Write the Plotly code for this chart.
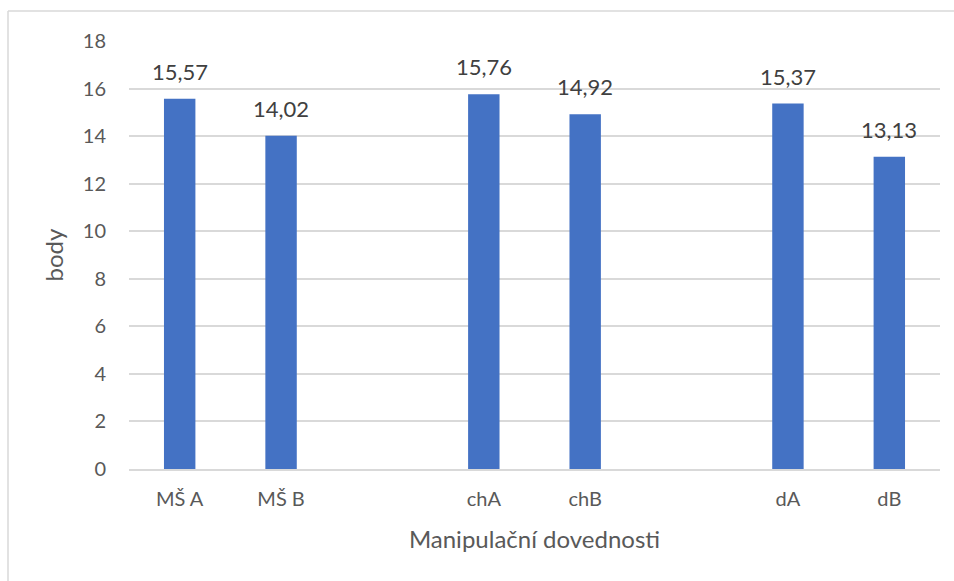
import plotly.graph_objects as go

categories = ["MŠ A", "MŠ B", " ", "chA", "chB", "  ", "dA", "dB"]
values = [15.57, 14.02, None, 15.76, 14.92, None, 15.37, 13.13]
labels = [("%.2f" % v).replace(".", ",") if v is not None else "" for v in values]
y_ticks = [0, 2, 4, 6, 8, 10, 12, 14, 16, 18]

W, H = 954, 581
ml, mr, mt, mb = 129, 14, 41, 112
pw, ph = W - ml - mr, H - mt - mb

def px(x):
    return (x - ml) / pw

def py(y):
    return (H - mb - y) / ph

FONT = "Lato"

fig = go.Figure()
fig.add_trace(go.Bar(
    x=categories, y=values,
    marker=dict(color="#4472C4", line=dict(width=0)),
    width=0.31,
))

for c, v, t in zip(categories, values, labels):
    if v is None:
        continue
    fig.add_annotation(x=c, y=v, text=t, showarrow=False, yanchor="bottom",
                       yshift=12, font=dict(family=FONT, size=22, color="#404040"))

fig.update_layout(
    width=W, height=H,
    margin=dict(l=ml, r=mr, t=mt, b=mb),
    paper_bgcolor="white", plot_bgcolor="white",
    showlegend=False,
    font=dict(family=FONT, color="#595959"),
    xaxis=dict(
        type="category", categoryorder="array", categoryarray=categories,
        showgrid=False, showline=True, linecolor="#d9d9d9", linewidth=1.5,
        ticks="", tickfont=dict(size=20, color="#595959"), ticklabelstandoff=11,
        title=dict(text="Manipulační dovednosti", font=dict(size=24, color="#595959"), standoff=22),
    ),
    yaxis=dict(
        range=[0, 18], tickvals=y_ticks, ticktext=[str(t) for t in y_ticks],
        showgrid=True, gridcolor="#d9d9d9", gridwidth=1.5, zeroline=False,
        showline=False, ticks="", tickfont=dict(size=20, color="#595959"),
        ticklabelstandoff=22,
        title=dict(text="body", font=dict(size=24, color="#595959"), standoff=12),
    ),
    bargap=0.69,
)

fig.add_shape(type="line", xref="paper", yref="paper",
              x0=px(8), x1=px(954), y0=py(11), y1=py(11),
              line=dict(color="#d9d9d9", width=1.5))
fig.add_shape(type="line", xref="paper", yref="paper",
              x0=px(8), x1=px(8), y0=py(11), y1=py(581),
              line=dict(color="#d9d9d9", width=1.5))

fig.write_html("out.html")
